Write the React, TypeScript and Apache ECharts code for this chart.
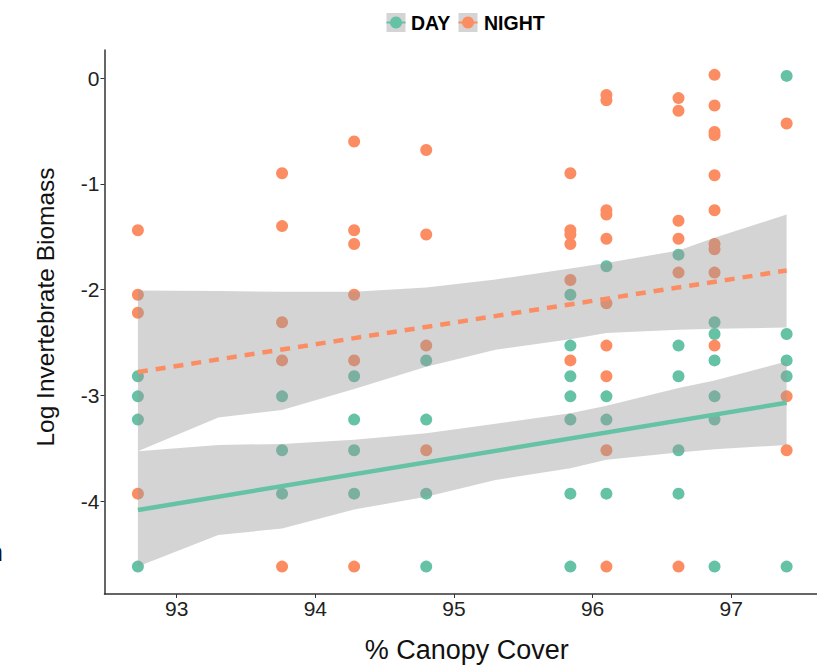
import React, { useEffect, useRef } from 'react';
import * as echarts from 'echarts';

// % canopy cover of each sampled site
const canopy = [92.72, 93.76, 94.28, 94.8, 95.84, 96.1, 96.62, 96.88, 97.4];

// log invertebrate biomass per site, night samples
const nightBiomass = [
  [-1.44, -2.05, -2.22, -3.93],
  [-0.9, -1.4, -2.31, -2.67, -4.62],
  [-0.6, -1.44, -1.57, -2.05, -2.67, -4.62],
  [-0.68, -1.48, -2.53, -3.52],
  [-0.9, -1.44, -1.48, -1.57, -1.91, -2.67],
  [-0.16, -0.21, -1.25, -1.29, -1.52, -2.13, -2.53, -2.82, -3.52, -4.62],
  [-0.19, -0.31, -1.35, -1.52, -1.84, -4.62],
  [0.03, -0.26, -0.51, -0.54, -0.92, -1.25, -1.57, -1.62, -1.84, -2.53],
  [-0.43, -3.01, -3.52],
];

// log invertebrate biomass per site, day samples
const dayBiomass = [
  [-2.82, -3.01, -3.23, -4.62],
  [-3.01, -3.52, -3.93],
  [-2.82, -3.23, -3.52, -3.93],
  [-2.67, -3.23, -3.93, -4.62],
  [-2.05, -2.53, -2.82, -3.01, -3.23, -3.93, -4.62],
  [-1.78, -3.01, -3.23, -3.93],
  [-1.67, -2.53, -2.82, -3.52, -3.93],
  [-2.31, -2.42, -2.67, -3.01, -3.23, -4.62],
  [0.02, -2.42, -2.67, -2.82, -4.62],
];

// linear fits
const fitX = [92.72, 97.4];
const nightFit = [-2.78, -1.82];
const dayFit = [-4.085, -3.07];

// confidence bands
const bandX = [92.72, 93.3, 93.76, 94.28, 94.8, 95.3, 95.84, 96.1, 96.62, 96.88, 97.4];
const nightLower = [-3.53, -3.21, -3.14, -2.94, -2.73, -2.57, -2.47, -2.41, -2.38, -2.37, -2.36];
const nightUpper = [-2.01, -2.015, -2.02, -2.02, -1.98, -1.905, -1.8, -1.75, -1.63, -1.51, -1.29];
const dayLower = [-4.62, -4.32, -4.26, -4.08, -3.96, -3.8, -3.69, -3.61, -3.54, -3.51, -3.47];
const dayUpper = [-3.53, -3.47, -3.46, -3.42, -3.36, -3.27, -3.17, -3.1, -2.93, -2.86, -2.68];

const xTicks = [93, 94, 95, 96, 97];
const yTicks = [-4, -3, -2, -1, 0];

const DAY = '#66c2a5';
const NIGHT = '#fc8d62';
const FONT = '"Liberation Sans", Arial, Helvetica, sans-serif';

function flatten(groups: number[][]) {
  const out: number[][] = [];
  groups.forEach((vals, i) => vals.forEach((v) => out.push([canopy[i], v])));
  return out;
}

function band(lo: number[], hi: number[], z: number) {
  return {
    type: 'custom',
    silent: true,
    z,
    data: bandX.map((x, i) => [x, lo[i], hi[i]]),
    encode: { x: 0, y: [1, 2] },
    renderItem: (params: any, api: any) => {
      if (params.dataIndex !== 0) return null;
      const up = bandX.map((x, i) => api.coord([x, hi[i]]));
      const dn = bandX.map((x, i) => api.coord([x, lo[i]])).reverse();
      return {
        type: 'polygon',
        shape: { points: up.concat(dn) },
        style: { fill: 'rgba(153,153,153,0.42)' },
      };
    },
  };
}

export default function App() {
  const ref = useRef<HTMLDivElement>(null);
  useEffect(() => {
    if (!ref.current) return;
    const chart = echarts.init(ref.current, undefined, { renderer: 'svg' });
    const legendKey = (x: number, color: string, label: string, tx: number) => [
      { type: 'rect', shape: { x, y: 13, width: 19, height: 19 }, style: { fill: '#d4d4d4' } },
      { type: 'line', shape: { x1: x, y1: 22.5, x2: x + 19, y2: 22.5 }, style: { stroke: color, lineWidth: 2 } },
      { type: 'circle', shape: { cx: x + 9.5, cy: 22.5, r: 6 }, style: { fill: color } },
      {
        type: 'text',
        x: tx,
        y: 23,
        style: { text: label, font: `bold 19.5px ${FONT}`, fill: '#000', verticalAlign: 'middle', align: 'left' },
      },
    ];
    chart.setOption({
      animation: false,
      backgroundColor: '#fff',
      grid: { left: 104.5, top: 50, width: 724.4, height: 544, containLabel: false, outerBoundsMode: 'none' },
      xAxis: {
        type: 'value',
        min: 92.479,
        max: 97.705,
        name: '% Canopy Cover',
        nameLocation: 'middle',
        nameGap: 42,
        nameTextStyle: { fontFamily: FONT, fontSize: 27, color: '#111' },
        axisLine: { show: true, onZero: false, lineStyle: { color: '#333', width: 1.5 } },
        axisTick: { show: true, length: 4, customValues: xTicks, lineStyle: { color: '#333' } },
        axisLabel: { customValues: xTicks, fontFamily: FONT, fontSize: 21, color: '#222', margin: 4 },
        splitLine: { show: false },
      },
      yAxis: {
        type: 'value',
        min: -4.879,
        max: 0.265,
        name: 'Log Invertebrate Biomass',
        nameLocation: 'middle',
        nameGap: 47,
        nameTextStyle: { fontFamily: FONT, fontSize: 24.5, color: '#111', padding: [0, 0, 0, 30] },
        axisLine: { show: true, onZero: false, lineStyle: { color: '#333', width: 1.5 } },
        axisTick: { show: true, length: 4, customValues: yTicks, lineStyle: { color: '#333' } },
        axisLabel: { customValues: yTicks, fontFamily: FONT, fontSize: 21, color: '#222', margin: 5 },
        splitLine: { show: false },
      },
      graphic: [
        ...legendKey(386.5, DAY, 'DAY', 411),
        ...legendKey(458.5, NIGHT, 'NIGHT', 484),
        {
          type: 'text',
          x: -11,
          y: 552,
          style: { text: 'n', font: `25px ${FONT}`, fill: '#111', verticalAlign: 'middle' },
        },
      ],
      series: [
        {
          name: 'DAY',
          type: 'scatter',
          z: 2,
          symbolSize: 12,
          itemStyle: { color: DAY, opacity: 1 },
          data: flatten(dayBiomass),
        },
        {
          name: 'NIGHT',
          type: 'scatter',
          z: 2,
          symbolSize: 12,
          itemStyle: { color: NIGHT, opacity: 1 },
          data: flatten(nightBiomass),
        },
        band(dayLower, dayUpper, 3),
        {
          type: 'line',
          z: 4,
          showSymbol: false,
          silent: true,
          lineStyle: { color: DAY, width: 4.5 },
          data: fitX.map((x, i) => [x, dayFit[i]]),
        },
        band(nightLower, nightUpper, 3),
        {
          type: 'line',
          z: 4,
          showSymbol: false,
          silent: true,
          lineStyle: { color: NIGHT, width: 4.5, type: [10, 8] },
          data: fitX.map((x, i) => [x, nightFit[i]]),
        },
      ],
    });
    return () => chart.dispose();
  }, []);
  return <div ref={ref} style={{ position: 'fixed', left: 0, top: 0, width: 817, height: 666 }} />;
}
